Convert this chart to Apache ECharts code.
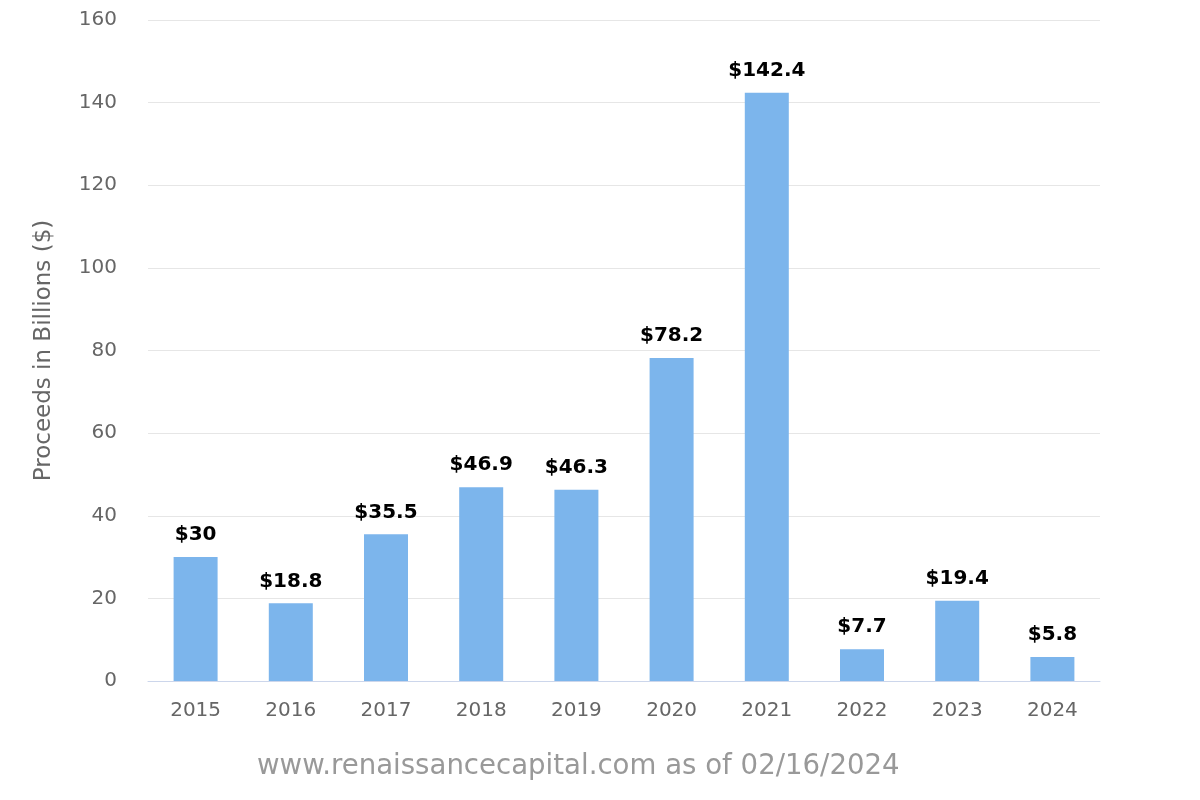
<!DOCTYPE html>
<html>
<head>
<meta charset="utf-8">
<script src="https://cdn.jsdelivr.net/npm/echarts@6/dist/echarts.min.js"></script>
<style>html,body{margin:0;padding:0;background:#fff;}#c{width:1200px;height:800px;}</style>
</head>
<body>
<div id="c"></div>
<script>
const categories = ['2015','2016','2017','2018','2019','2020','2021','2022','2023','2024'];
const proceeds = [30, 18.8, 35.5, 46.9, 46.3, 78.2, 142.4, 7.7, 19.4, 5.8];
const yTicks = [0, 20, 40, 60, 80, 100, 120, 140, 160];
const yAxisTitle = 'Proceeds in Billions ($)';
const footerText = 'www.renaissancecapital.com as of 02/16/2024';

const FONT = '"DejaVu Sans", Verdana, sans-serif';
const chart = echarts.init(document.getElementById('c'));
chart.setOption({
  animation: false,
  backgroundColor: '#ffffff',
  grid: { left: 148, right: 100, top: 20, bottom: 119, containLabel: false },
  xAxis: {
    type: 'category',
    data: categories,
    axisLine: { lineStyle: { color: '#ccd6eb', width: 1 } },
    axisTick: { show: false },
    axisLabel: { color: '#666666', fontSize: 20, fontFamily: FONT, margin: 20 }
  },
  yAxis: {
    type: 'value',
    min: yTicks[0],
    max: yTicks[yTicks.length - 1],
    interval: 20,
    name: yAxisTitle,
    nameLocation: 'middle',
    nameGap: 92,
    nameTextStyle: { color: '#666666', fontSize: 23, fontFamily: FONT },
    axisLine: { show: false },
    axisTick: { show: false },
    splitLine: { lineStyle: { color: '#e6e6e6', width: 1 } },
    axisLabel: { color: '#666666', fontSize: 20, fontFamily: FONT, margin: 31 }
  },
  series: [{
    type: 'bar',
    data: proceeds,
    barWidth: 44,
    itemStyle: { color: '#7cb5ec' },
    label: {
      show: true,
      position: 'top',
      distance: 12,
      color: '#000000',
      fontSize: 20,
      fontWeight: 'bold',
      fontFamily: FONT,
      formatter: p => '$' + p.value
    }
  }],
  graphic: [{
    type: 'text',
    left: 257,
    top: 753,
    style: { text: footerText, fill: '#999999', fontSize: 27.6, fontFamily: FONT }
  }]
});
</script>
</body>
</html>
